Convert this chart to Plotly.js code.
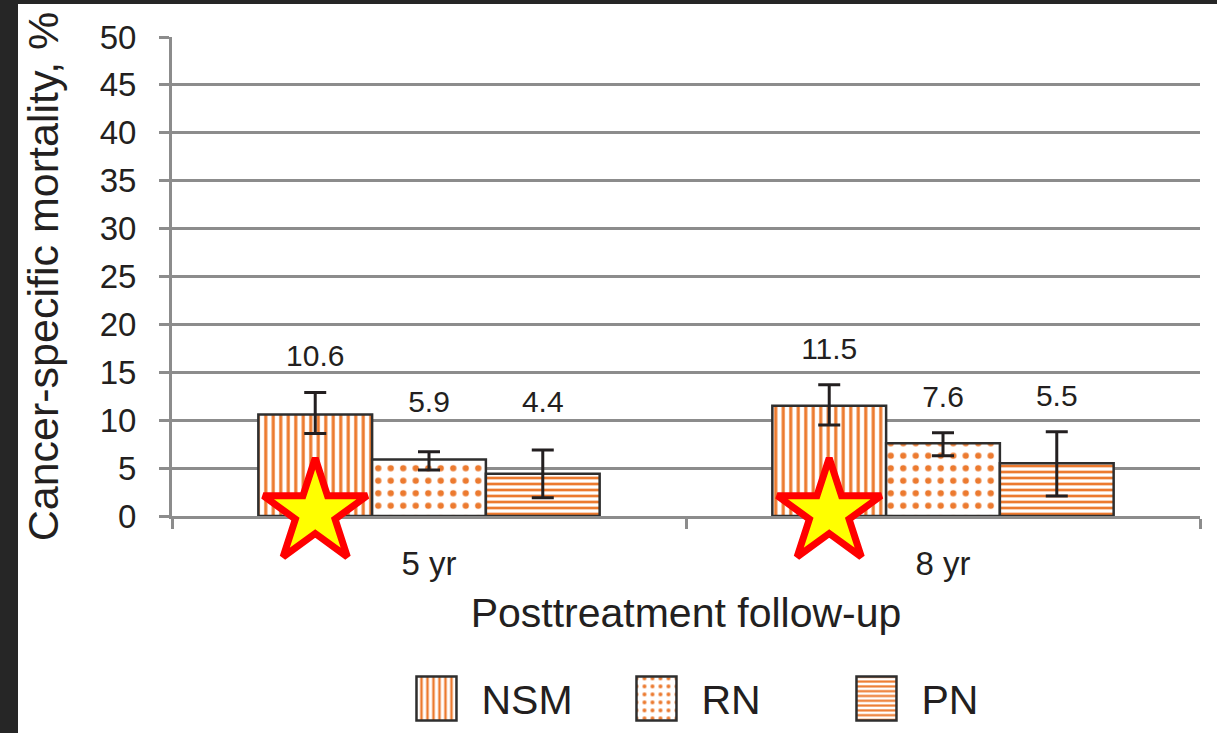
<!DOCTYPE html>
<html><head><meta charset="utf-8">
<script src="https://cdn.plot.ly/plotly-3.0.1.min.js"></script>
<style>
html,body{margin:0;padding:0;background:#262626;width:1217px;height:733px;overflow:hidden}
#chart{position:absolute;left:18px;top:4px;width:1199px;height:729px;background:#fff}
</style>
</head><body><div id="chart"></div>
<script>
// ---- data ----
const categories = ['5 yr', '8 yr'];
const seriesNames = ['NSM', 'RN', 'PN'];
const nsmValues = [10.6, 11.5];
const rnValues  = [5.9, 7.6];
const pnValues  = [4.4, 5.5];
const nsmLow  = [8.6, 9.5];  const nsmHigh = [12.9, 13.7];
const rnLow   = [4.8, 6.3];  const rnHigh  = [6.7, 8.7];
const pnLow   = [1.9, 2.1];  const pnHigh  = [6.9, 8.8];
const highlightedSeries = 'NSM';   // marked with a star in each group

// ---- styling ----
const FONT = 'Liberation Sans, Arial, sans-serif';
const TXT = '#231f20';
const ORANGE = '#EC7A2F';
const GRID = '#8c8c8c';
const BARGAP = 0.336;
const nSeries = seriesNames.length;
const barW = (1 - BARGAP) / nSeries;

const values = [nsmValues, rnValues, pnValues];
const lows = [nsmLow, rnLow, pnLow];
const highs = [nsmHigh, rnHigh, pnHigh];
const patterns = [
  {shape: '|', size: 7.5, solidity: 0.42},
  {shape: '.', size: 12.5, solidity: 0.2},
  {shape: '-', size: 6, solidity: 0.45}
];

const traces = [];
seriesNames.forEach((name, j) => {
  traces.push({
    type: 'bar', name: name, x: categories, y: values[j],
    marker: {
      color: '#ffffff',
      line: {color: '#2e2e2e', width: 2.5},
      pattern: Object.assign({fgcolor: ORANGE, bgcolor: '#ffffff', fillmode: 'replace'}, patterns[j])
    },
    error_y: {
      type: 'data', symmetric: false,
      array: values[j].map((v, i) => +(highs[j][i] - v).toFixed(2)),
      arrayminus: values[j].map((v, i) => +(v - lows[j][i]).toFixed(2)),
      color: TXT, thickness: 3, width: 11
    },
    hoverinfo: 'skip'
  });
});

// value labels (on an overlaid numeric axis so they sit over each bar)
const lx = [], ly = [], lt = [];
seriesNames.forEach((name, j) => {
  categories.forEach((c, i) => {
    lx.push(i + (j - (nSeries - 1) / 2) * barW);
    ly.push(Math.max(highs[j][i] + 3.5, 11.6));
    lt.push(values[j][i].toFixed(1));
  });
});
traces.push({
  type: 'scatter', mode: 'text', x: lx, y: ly, text: lt, xaxis: 'x2',
  textfont: {family: FONT, size: 30, color: TXT}, showlegend: false, hoverinfo: 'skip', cliponaxis: false
});

// stars on highlighted series
const hj = seriesNames.indexOf(highlightedSeries);
traces.push({
  type: 'scatter', mode: 'markers', xaxis: 'x2',
  x: categories.map((c, i) => i + (hj - (nSeries - 1) / 2) * barW),
  y: categories.map(() => 0.35),
  marker: {symbol: 'star', size: 78, color: '#FFFF00', line: {color: '#FF0000', width: 7}},
  showlegend: false, hoverinfo: 'skip', cliponaxis: false
});

const layout = {
  width: 1199, height: 729,
  margin: {l: 154, r: 17, t: 33, b: 217, autoexpand: false},
  paper_bgcolor: '#ffffff', plot_bgcolor: '#ffffff',
  font: {family: FONT, color: TXT},
  barmode: 'group', bargap: BARGAP, bargroupgap: 0,
  showlegend: true,
  legend: {
    orientation: 'h', x: 0.2135, xanchor: 'left',
    yref: 'container', y: 0.047, yanchor: 'middle',
    font: {family: FONT, size: 41, color: TXT},
    itemwidth: 80, entrywidth: 125, traceorder: 'normal', bgcolor: 'rgba(0,0,0,0)'
  },
  xaxis: {
    type: 'category', range: [-0.5, 1.5], tickson: 'boundaries', automargin: false,
    ticks: 'outside', ticklen: 10, tickwidth: 3, tickcolor: GRID,
    showline: true, linecolor: GRID, linewidth: 3, showgrid: false, zeroline: false,
    tickfont: {family: FONT, size: 33, color: TXT}, ticklabelstandoff: 16,
    title: {text: 'Posttreatment follow-up', font: {family: FONT, size: 41, color: TXT}, standoff: 18},
    layer: 'below traces', fixedrange: true
  },
  xaxis2: {overlaying: 'x', range: [-0.5, 1.5], visible: false, fixedrange: true},
  yaxis: {
    range: [0, 50], dtick: 5, tick0: 0, automargin: false,
    ticks: 'outside', ticklen: 10, tickwidth: 3, tickcolor: GRID,
    showline: true, linecolor: GRID, linewidth: 3,
    showgrid: true, gridcolor: GRID, gridwidth: 3, zeroline: false,
    tickfont: {family: FONT, size: 33, color: TXT}, ticklabelstandoff: 16,
    title: {text: 'Cancer-specific mortality, %', font: {family: FONT, size: 43, color: TXT}, standoff: 28},
    layer: 'below traces', fixedrange: true
  }
};

function enlargeLegendSymbols(gd) {
  gd.querySelectorAll('.legend .legendpoints path').forEach(p => {
    p.setAttribute('d', 'M20,22H-20V-22H20Z');
  });
}

Plotly.newPlot('chart', traces, layout, {displayModeBar: false, staticPlot: true}).then(gd => {
  enlargeLegendSymbols(gd);
  gd.on('plotly_afterplot', () => enlargeLegendSymbols(gd));
});
</script>
</body></html>
